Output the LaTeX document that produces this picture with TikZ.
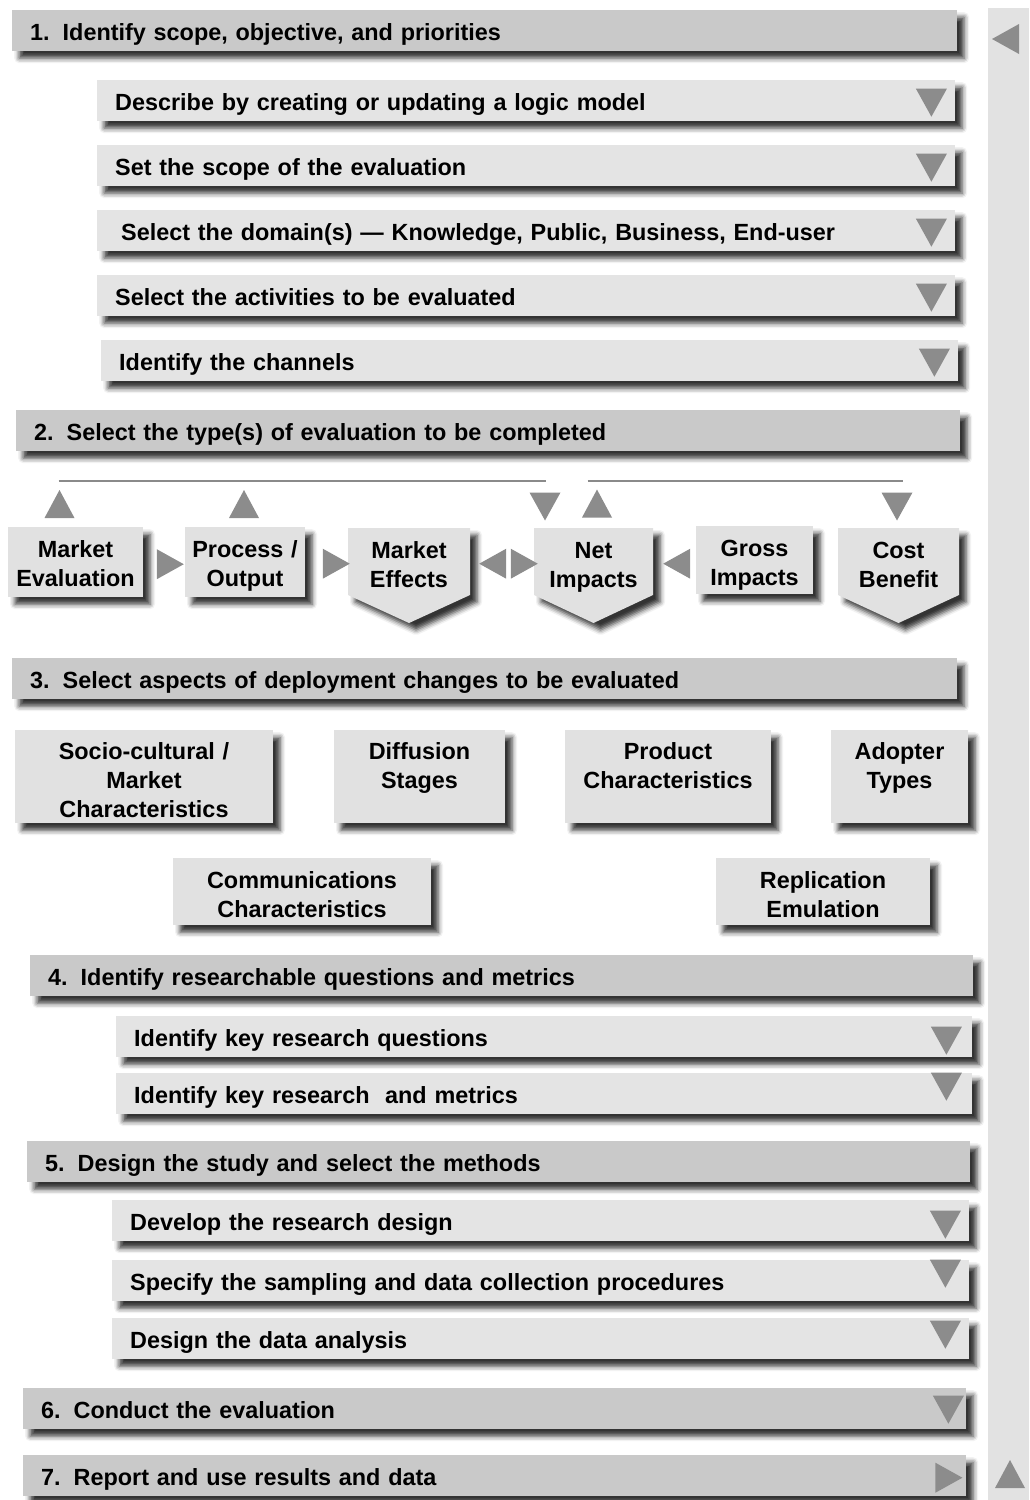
\documentclass[tikz,border=0pt]{standalone}
\usepackage{fontspec}
\setmainfont{Liberation Sans}
\usetikzlibrary{calc,shadows.blur}
\definecolor{headgray}{RGB}{201,201,201}
\definecolor{subgray}{RGB}{228,228,228}
\definecolor{boxgray}{RGB}{225,225,225}
\definecolor{sidegray}{RGB}{226,226,226}
\definecolor{trigray}{RGB}{140,140,140}
\definecolor{linegray}{RGB}{138,138,138}
\tikzset{
  dropshade/.style = {blur shadow={shadow xshift=7pt, shadow yshift=-7pt,
      shadow blur radius=5pt, shadow opacity=80}},
  headbar/.style = {dropshade, fill=headgray, anchor=north west,
      inner xsep=18pt, inner ysep=0pt, minimum height=41pt,
      align=left, text height=20pt, text depth=0pt},
  subbar/.style = {headbar, fill=subgray},
  tbase/.style = {anchor=north, inner sep=0pt, align=center},
  typebox/.style = {tbase, dropshade, fill=boxgray},
  chevbox/.style = {tbase},
  link/.style = {draw=linegray, line width=1.8pt},
  pics/chev/.style = {code={\path[dropshade, fill=boxgray] (-#1,0) -- (#1,0)
      -- (#1,67) -- (0,95) -- (-#1,67) -- cycle;}},
  dtri/.pic = {\fill[trigray] (-15.5,-14) -- (15.5,-14) -- (0,14) -- cycle;},
  utri/.pic = {\fill[trigray] (-15,14) -- (15,14) -- (0,-14) -- cycle;},
  rtri/.pic = {\fill[trigray] (-27,-15) -- (-27,15) -- (0,0) -- cycle;},
  ltri/.pic = {\fill[trigray] (27,-15) -- (27,15) -- (0,0) -- cycle;}
}
\newcommand{\stepno}[1]{#1.\hspace{13pt}}

\begin{document}
\begin{tikzpicture}[x=1pt,y=-1pt,font=\fontsize{23.4}{29}\selectfont\bfseries]
  \useasboundingbox (0,0) rectangle (1029,1500);
  % side bar
  \fill[sidegray] (988,8) rectangle (1029,1500);
  \pic at (992,39) {ltri};
  \pic at (1010,1474) {utri};

  % step 1
  \node[headbar, text width=909pt] (h1) at (12,10) {\stepno{1}Identify scope, objective, and priorities};
  \node[subbar, text width=822pt] (s1) at (97,80) {Describe by creating or updating a logic model};
  \node[subbar, text width=822pt] (s2) at (97,145) {Set the scope of the evaluation};
  \node[subbar, text width=822pt] (s3) at (97,210) {\hspace*{6pt}Select the domain(s) — Knowledge, Public, Business, End-user};
  \node[subbar, text width=822pt] (s4) at (97,275) {Select the activities to be evaluated};
  \node[subbar, text width=821pt] (s5) at (101,340) {Identify the channels};
  \foreach \s in {s1,s2,s3,s4,s5}
    \pic at ($(\s.east)+(-24,2)$) {dtri};

  % step 2
  \node[headbar, text width=908pt] (h2) at (16,410) {\stepno{2}Select the type(s) of evaluation to be completed};
  \pic at (409,528) {chev=61};
  \pic at (593.5,528) {chev=59.5};
  \pic at (898.5,528) {chev=60.5};
  \node[typebox, text width=135pt, text height=30.5pt, text depth=39.5pt] (mkteval) at (75.5,527) {Market\\Evaluation};
  \node[typebox, text width=120pt, text height=30.5pt, text depth=39.5pt] (procout) at (245,527) {Process /\\Output};
  \node[chevbox, text width=122pt, text height=30.5pt, text depth=36.5pt] (meff) at (409,528) {Market\\Effects};
  \node[chevbox, text width=119pt, text height=30.5pt, text depth=36.5pt] (net) at (593.5,528) {Net\\Impacts};
  \node[typebox, text width=117pt, text height=30.5pt, text depth=37.5pt] (gross) at (754.5,526) {Gross\\Impacts};
  \node[chevbox, text width=121pt, text height=30.5pt, text depth=36.5pt] (cost) at (898.5,528) {Cost\\Benefit};
  % flow between types
  \pic at ($(procout.west)+(-1,2)$) {rtri};
  \pic at ($(meff.west)+(2,2)$) {rtri};
  \pic at ($(meff.east)+(9,2)$) {ltri};
  \pic at ($(net.west)+(4,2)$) {rtri};
  \pic at ($(net.east)+(10,2)$) {ltri};
  % links above
  \draw[link] ($(mkteval.north)+(-17,-46)$) -- ($(net.north)+(-48,-47)$);
  \draw[link] ($(net.north)+(-6,-47)$) -- ($(cost.north)+(4,-47)$);
  \pic at ($(mkteval.north)+(-16,-23)$) {utri};
  \pic at ($(procout.north)+(-1,-23)$) {utri};
  \pic at ($(net.north)+(-48.5,-21.5)$) {dtri};
  \pic at ($(net.north)+(3.5,-24.5)$) {utri};
  \pic at ($(cost.north)+(-1.5,-21.5)$) {dtri};

  % step 3
  \node[headbar, text width=909pt] (h3) at (12,658) {\stepno{3}Select aspects of deployment changes to be evaluated};
  \node[typebox, text width=258pt, text height=29.5pt, text depth=63.5pt] (socio) at (144,730) {Socio-cultural /\\Market\\Characteristics};
  \node[typebox, text width=171pt, text height=29.5pt, text depth=63.5pt] (diff) at (419.5,730) {Diffusion\\Stages};
  \node[typebox, text width=206pt, text height=29.5pt, text depth=63.5pt] (prod) at (668,730) {Product\\Characteristics};
  \node[typebox, text width=137pt, text height=29.5pt, text depth=63.5pt] (adopt) at (899.5,730) {Adopter\\Types};
  \node[typebox, text width=258pt, text height=30.5pt, text depth=36.5pt] (comms) at (302,858) {Communications\\Characteristics};
  \node[typebox, text width=214pt, text height=30.5pt, text depth=36.5pt] (repl) at (823,858) {Replication\\Emulation};

  % step 4
  \node[headbar, text width=907pt] (h4) at (30,955) {\stepno{4}Identify researchable questions and metrics};
  \node[subbar, text width=820pt] (s6) at (116,1016) {Identify key research questions};
  \node[subbar, text width=820pt] (s7) at (116,1073) {Identify key research~ and metrics};
  \pic at ($(s6.east)+(-26,4)$) {dtri};
  \pic at ($(s7.east)+(-26,-7)$) {dtri};

  % step 5
  \node[headbar, text width=907pt] (h5) at (27,1141) {\stepno{5}Design the study and select the methods};
  \node[subbar, text width=821pt] (s8) at (112,1200) {Develop the research design};
  \node[subbar, text width=821pt] (s9) at (112,1260) {Specify the sampling and data collection procedures};
  \node[subbar, text width=821pt] (s10) at (112,1318) {Design the data analysis};
  \pic at ($(s8.east)+(-24,4)$) {dtri};
  \pic at ($(s9.east)+(-24,-7)$) {dtri};
  \pic at ($(s10.east)+(-24,-4)$) {dtri};

  % steps 6 and 7
  \node[headbar, text width=907pt] (h6) at (23,1388) {\stepno{6}Conduct the evaluation};
  \node[headbar, text width=907pt] (h7) at (23,1455) {\stepno{7}Report and use results and data};
  \pic at ($(h6.east)+(-18,1)$) {dtri};
  \pic at ($(h7.east)+(-4,2)$) {rtri};
\end{tikzpicture}
\end{document}
